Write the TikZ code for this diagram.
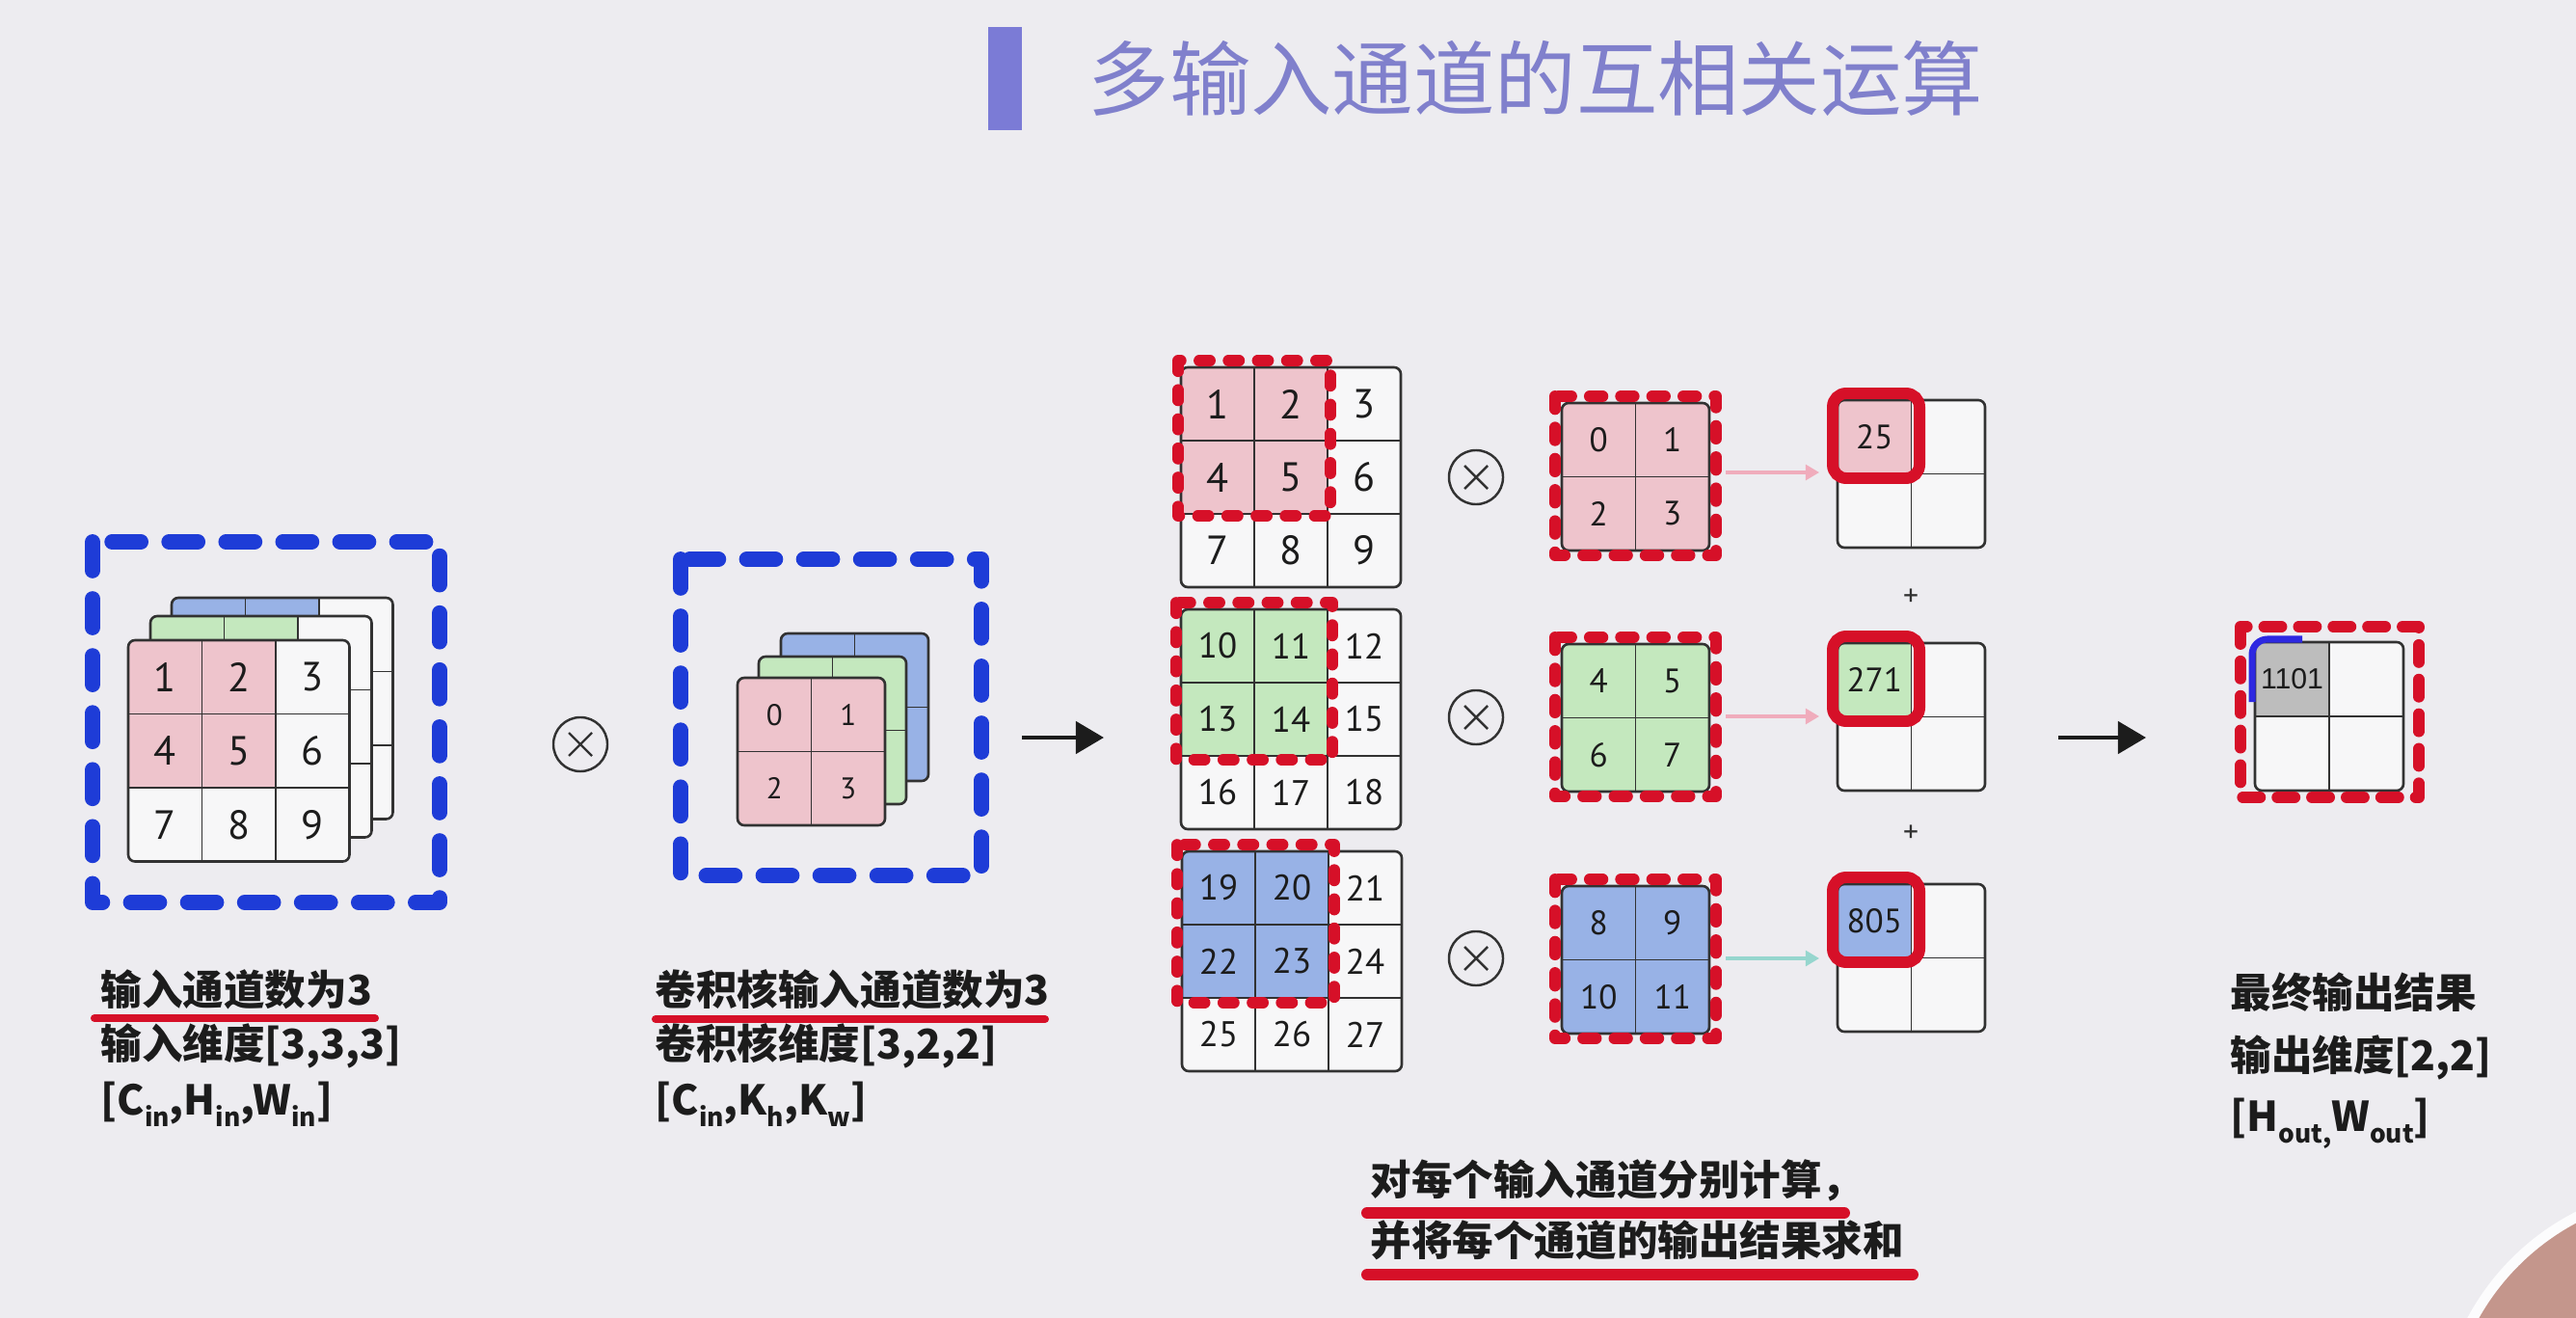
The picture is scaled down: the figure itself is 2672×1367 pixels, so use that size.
\documentclass[tikz,border=0pt]{standalone}
\usepackage{fontspec}
\usetikzlibrary{arrows.meta}
\newfontfamily\cjk{Noto Sans CJK SC}
\newfontfamily\numf{PT Sans}
\newfontfamily\arialf{Liberation Sans}
\definecolor{bg}{RGB}{237,236,240}
\definecolor{cellw}{RGB}{247,247,248}
\definecolor{pinkc}{RGB}{238,196,204}
\definecolor{greenc}{RGB}{196,232,190}
\definecolor{bluec}{RGB}{152,178,230}
\definecolor{grayc}{RGB}{189,189,189}
\definecolor{redd}{RGB}{214,16,40}
\definecolor{blued}{RGB}{30,60,215}
\definecolor{bluel}{RGB}{45,40,225}
\definecolor{titlec}{RGB}{128,128,204}
\definecolor{barc}{RGB}{123,123,214}
\definecolor{arpink}{RGB}{240,172,188}
\definecolor{arcyan}{RGB}{150,214,206}
\definecolor{gridc}{RGB}{50,50,50}
\definecolor{txt}{RGB}{28,28,28}
\definecolor{skin}{RGB}{196,150,140}
\newcommand\sbs[1]{\raisebox{-0.55ex}{\fontsize{7.5pt}{8pt}\selectfont #1}}
\tikzset{
  gline/.style={draw=gridc,line width=0.55pt},
  gborder/.style={draw=gridc,line width=0.75pt},
  num/.style={inner sep=0pt,text=txt},
  nbig/.style={font=\numf\fontsize{12pt}{14pt}\selectfont},
  nmid/.style={font=\numf\fontsize{10.5pt}{12pt}\selectfont},
  nsml/.style={font=\numf\fontsize{10pt}{12pt}\selectfont},
  ntiny/.style={font=\numf\fontsize{8.8pt}{10pt}\selectfont},
  narial/.style={font=\arialf\fontsize{8.6pt}{10pt}\selectfont},
  lbl/.style={anchor=base west,inner sep=0pt,text=txt,font=\cjk\bfseries\fontsize{12.1pt}{14pt}\selectfont},
  bluedash/.style={draw=blued,line width=4.5pt,line cap=round,line join=round,dash pattern=on 8.5pt off 8.3pt},
  reddashA/.style={draw=redd,line width=3.3pt,line cap=round,line join=round,dash pattern=on 3.2pt off 5.4pt},
  reddashK/.style={draw=redd,line width=3.4pt,line cap=round,line join=round,dash pattern=on 3.8pt off 5.4pt},
  reddashF/.style={draw=redd,line width=3.4pt,line cap=round,line join=round,dash pattern=on 5.1pt off 5.1pt},
  redring/.style={draw=redd,line width=3.4pt,rounded corners=1.4mm},
  uline/.style={draw=redd,line width=2.3pt,line cap=round},
  ulinebig/.style={draw=redd,line width=3.4pt,line cap=round},
  bigarrow/.style={draw=txt,line width=1.4pt,-{Triangle[length=8.3pt,width=9.4pt]}},
  smallarrow/.style={line width=0.9pt,-{Triangle[length=4pt,width=4.5pt]}},
  otimes/.style={circle,draw=gridc,line width=0.7pt,minimum size=0.56cm,inner sep=0pt},
  crossl/.style={draw=gridc,line width=0.7pt},
  plussign/.style={inner sep=0pt,text=gridc,font=\numf\fontsize{9pt}{10pt}\selectfont},
}
% grid: x y n k fill cell
\newcommand\mgrid[6]{%
  \pgfmathsetmacro\gsz{#3*#6}%
  \pgfmathsetmacro\ksz{#4*#6}%
  \pgfmathtruncatemacro\gnm{#3-1}%
  \fill[cellw,rounded corners=0.7mm] (#1,#2) rectangle ++(\gsz,\gsz);
  \begin{scope}
    \clip[rounded corners=0.7mm] (#1,#2) rectangle ++(\gsz,\gsz);
    \fill[#5] (#1,#2) rectangle ++(\ksz,\ksz);
  \end{scope}
  \foreach \j in {1,...,\gnm}{%
    \draw[gline] ({#1+\j*#6},#2) -- ++(0,\gsz);
    \draw[gline] (#1,{#2+\j*#6}) -- ++(\gsz,0);
  }
  \draw[gborder,rounded corners=0.7mm] (#1,#2) rectangle ++(\gsz,\gsz);
}
% numbers: name x y n cell style list
\newcommand\gnums[7]{%
  \foreach \v [count=\i from 0] in {#7}{%
    \pgfmathtruncatemacro\rr{\i/#4}%
    \pgfmathtruncatemacro\cc{\i-\rr*#4}%
    \node[num,#6] (#1-\i) at ({#2+\cc*#5+#5/2},{#3+\rr*#5+#5/2}) {\v};
  }
}
\begin{document}
\begin{tikzpicture}[x=0.01cm,y=-0.01cm]
\fill[bg] (0,0) rectangle (2672,1367);
\useasboundingbox (0,0) rectangle (2672,1367);

% title
\fill[barc] (1025,28) rectangle (1060,135);
\node[anchor=base west,inner sep=0pt,text=titlec,font=\cjk\fontsize{24pt}{28pt}\selectfont] (title) at (1128,114) {多输入通道的互相关运算};

% input stack
\mgrid{178}{620}{3}{2}{bluec}{76.5}
\mgrid{156}{639}{3}{2}{greenc}{76.5}
\mgrid{133}{664}{3}{2}{pinkc}{76.5}
\gnums{in}{133}{664}{3}{76.5}{nbig}{1,2,3,4,5,6,7,8,9}
\draw[bluedash] (96,562) rectangle (456,936);

% otimes 1
\node[otimes] (ot1) at (602,772) {};
\draw[crossl] (ot1) +(-12,-12) -- +(12,12) (ot1) +(-12,12) -- +(12,-12);

% kernel stack
\mgrid{810}{657}{2}{2}{bluec}{76.5}
\mgrid{787}{681}{2}{2}{greenc}{76.5}
\mgrid{765}{703}{2}{2}{pinkc}{76.5}
\gnums{ker}{765}{703}{2}{76.5}{ntiny}{0,1,2,3}
\draw[bluedash] (706,580) rectangle (1018,908);

% arrow 1
\coordinate (a1s) at (1060,765);
\coordinate (a1e) at (1145,765);
\draw[bigarrow] (a1s) -- (a1e);

% middle 3x3 grids
\mgrid{1225}{381}{3}{2}{pinkc}{76}
\gnums{ga}{1225}{381}{3}{76}{nbig}{1,2,3,4,5,6,7,8,9}
\draw[reddashA] (1222,374) rectangle (1380,535);
\mgrid{1225}{632}{3}{2}{greenc}{76}
\gnums{gb}{1225}{632}{3}{76}{nmid}{10,11,12,13,14,15,16,17,18}
\draw[reddashA] (1220,625) rectangle (1382,788);
\mgrid{1226}{883}{3}{2}{bluec}{76}
\gnums{gc}{1226}{883}{3}{76}{nmid}{19,20,21,22,23,24,25,26,27}
\draw[reddashA] (1221,876) rectangle (1384,1040);

% otimes column
\foreach \nm/\yy in {ot2/495,ot3/744,ot4/994}{
  \node[otimes] (\nm) at (1531,\yy) {};
  \draw[crossl] (\nm) +(-12,-12) -- +(12,12) (\nm) +(-12,12) -- +(12,-12);
}

% kernels
\mgrid{1620}{418}{2}{2}{pinkc}{76.5}
\gnums{ka}{1620}{418}{2}{76.5}{nsml}{0,1,2,3}
\draw[reddashK] (1613,411) rectangle (1780,576);
\mgrid{1620}{668}{2}{2}{greenc}{76.5}
\gnums{kb}{1620}{668}{2}{76.5}{nsml}{4,5,6,7}
\draw[reddashK] (1613,661) rectangle (1780,826);
\mgrid{1620}{919}{2}{2}{bluec}{76.5}
\gnums{kc}{1620}{919}{2}{76.5}{nsml}{8,9,10,11}
\draw[reddashK] (1613,912) rectangle (1780,1077);

% small arrows
\coordinate (s1s) at (1790,490); \coordinate (s1e) at (1887,490);
\coordinate (s2s) at (1790,743); \coordinate (s2e) at (1887,743);
\coordinate (s3s) at (1790,994); \coordinate (s3e) at (1887,994);
\draw[smallarrow,arpink] (s1s) -- (s1e);
\draw[smallarrow,arpink] (s2s) -- (s2e);
\draw[smallarrow,arcyan] (s3s) -- (s3e);

% output grids
\mgrid{1906}{415}{2}{1}{pinkc}{76.5}
\gnums{oa}{1906}{415}{2}{76.5}{nsml}{25}
\draw[redring] (1901,408) rectangle (1991,496);
\mgrid{1906}{667}{2}{1}{greenc}{76.5}
\gnums{ob}{1906}{667}{2}{76.5}{nsml}{271}
\draw[redring] (1901,660) rectangle (1991,748);
\mgrid{1906}{917}{2}{1}{bluec}{76.5}
\gnums{oc}{1906}{917}{2}{76.5}{nsml}{805}
\draw[redring] (1901,910) rectangle (1991,998);
\node[plussign] (p1) at (1982,620) {+};
\node[plussign] (p2) at (1982,865) {+};

% arrow 2
\coordinate (a2s) at (2135,765);
\coordinate (a2e) at (2226,765);
\draw[bigarrow] (a2s) -- (a2e);

% final grid
\mgrid{2339}{666}{2}{1}{grayc}{77}
\gnums{fin}{2339}{666}{2}{77}{narial}{1101}
\draw[reddashF] (2324,650) rectangle (2509,827);
\draw[bluel,line width=2pt,rounded corners=1.6mm] (2336,728) |- (2388,663);

% labels left
\node[lbl] (l1) at (104,1042) {输入通道数为3};
\node[lbl] (l2) at (104,1098) {输入维度[3,3,3]};
\node[lbl] (l3) at (104,1156) {[C\sbs{in},H\sbs{in},W\sbs{in}]};
\coordinate (u1a) at (98,1056); \coordinate (u1b) at (389,1056);
\draw[uline] (u1a) -- (u1b);

% labels kernel
\node[lbl] (k1) at (679,1042) {卷积核输入通道数为3};
\node[lbl] (k2) at (679,1098) {卷积核维度[3,2,2]};
\node[lbl] (k3) at (679,1156) {[C\sbs{in},K\sbs{h},K\sbs{w}]};
\coordinate (u2a) at (680,1057); \coordinate (u2b) at (1084,1057);
\draw[uline] (u2a) -- (u2b);

% labels right
\node[lbl] (r1) at (2313,1045) {最终输出结果};
\node[lbl] (r2) at (2313,1110) {输出维度[2,2]};
\node[lbl] (r3) at (2313,1173) {[H\sbs{out,}W\sbs{out}]};

% bottom labels
\node[lbl] (b1) at (1421,1239) {对每个输入通道分别计算，};
\node[lbl] (b2) at (1421,1302) {并将每个通道的输出结果求和};
\coordinate (u3a) at (1418,1258); \coordinate (u3b) at (1913,1258);
\coordinate (u4a) at (1418,1322); \coordinate (u4b) at (1984,1322);
\draw[ulinebig] (u3a) -- (u3b);
\draw[ulinebig] (u4a) -- (u4b);

% corner photo fragment
\begin{scope}
  \clip (0,0) rectangle (2672,1367);
  \fill[skin] (2790,1490) circle[radius=2.56cm];
  \draw[white!85!bg,line width=3pt] (2790,1490) circle[radius=2.56cm];
\end{scope}
\end{tikzpicture}
\end{document}
